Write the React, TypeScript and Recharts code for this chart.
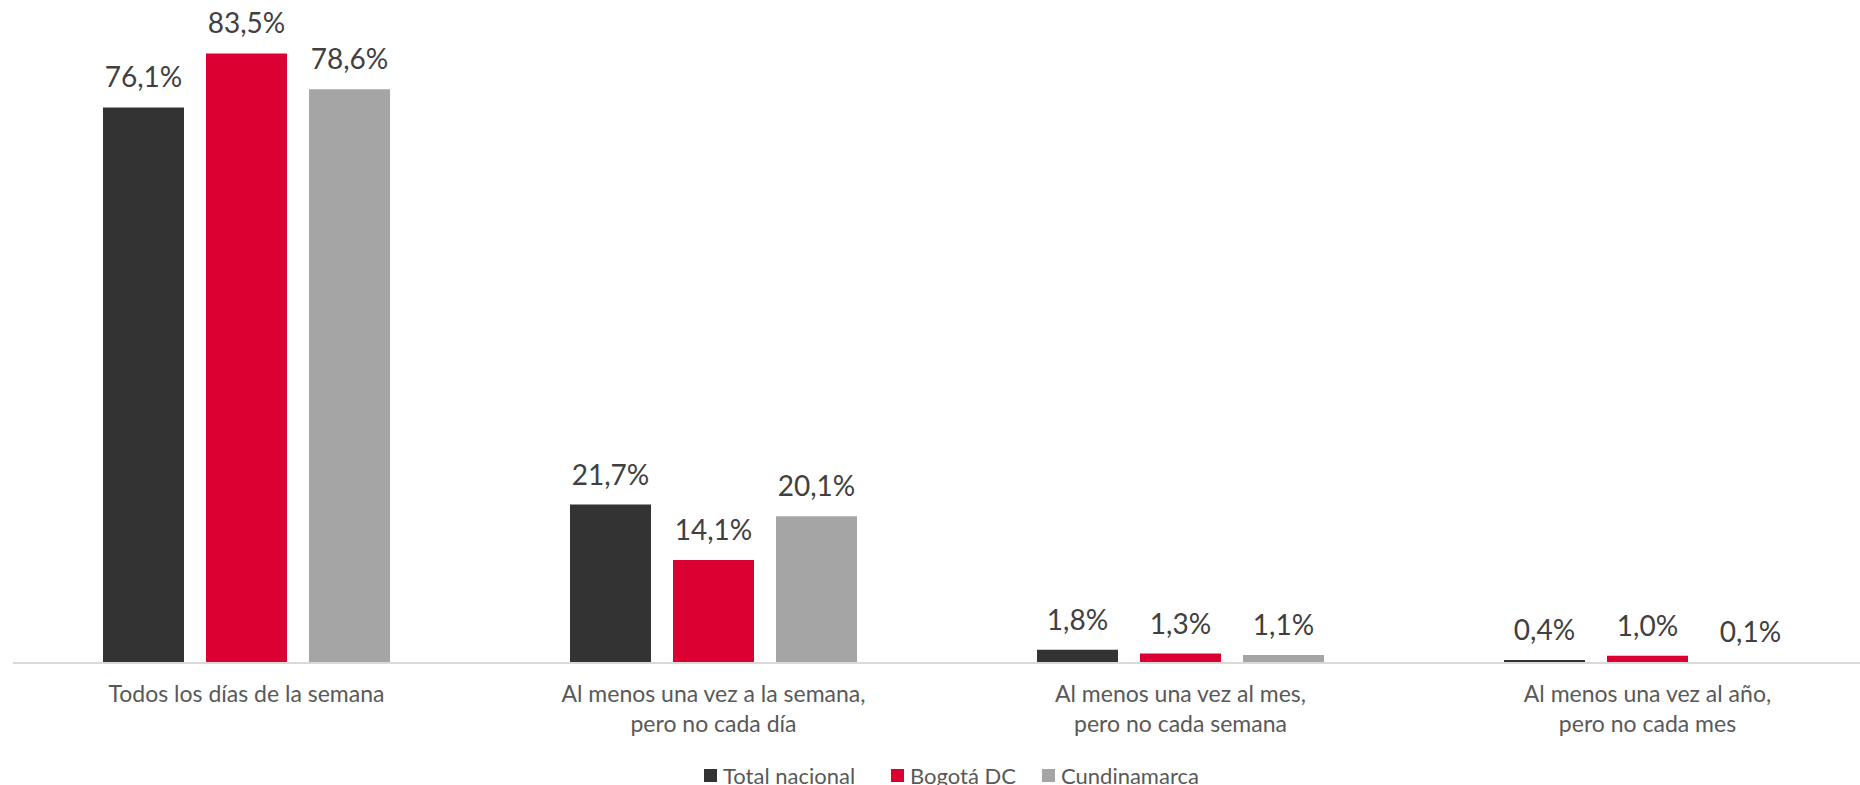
import React from "react";
import { BarChart, Bar, XAxis, YAxis, LabelList } from "recharts";

const categories = [
  "Todos los días de la semana",
  "Al menos una vez a la semana,\npero no cada día",
  "Al menos una vez al mes,\npero no cada semana",
  "Al menos una vez al año,\npero no cada mes",
];
const totalNacional = [76.1, 21.7, 1.8, 0.4];
const bogota = [83.5, 14.1, 1.3, 1.0];
const cundinamarca = [78.6, 20.1, 1.1, 0.1];

const seriesNames = ["Total nacional", "Bogotá DC", "Cundinamarca"];
const seriesColors = ["#333333", "#DC0032", "#A5A5A5"];
const legendLeft = [704, 891, 1042];

const data = categories.map((c, i) => ({
  name: c,
  s0: totalNacional[i],
  s1: bogota[i],
  s2: cundinamarca[i],
}));

const FONT = "Lato, 'Open Sans', sans-serif";

const fmt = (v: any) => Number(v).toFixed(1).replace(".", ",") + "%";

// etiqueta del eje en varias líneas
const CategoryTick = ({ x, y, payload }: any) => {
  const lines = String(payload.value).split("\n");
  return (
    <text x={x} y={y} textAnchor="middle" fill="#595959" fontSize={23} fontFamily={FONT}>
      {lines.map((l, i) => (
        <tspan key={i} x={x} dy={i === 0 ? 17 : 30}>
          {l}
        </tspan>
      ))}
    </text>
  );
};

export default function App() {
  return (
    <div
      style={{
        position: "fixed",
        left: 0,
        top: 0,
        width: 1860,
        height: 785,
        overflow: "hidden",
        background: "#fff",
      }}
    >
      <BarChart
        width={1900}
        height={785}
        data={data}
        margin={{ top: 6, right: 19, left: 13, bottom: 0 }}
        barSize={81}
        barGap={22}
      >
        <XAxis
          dataKey="name"
          height={122}
          interval={0}
          tickLine={false}
          tickSize={0}
          tickMargin={22}
          axisLine={{ stroke: "#D9D9D9", strokeWidth: 2 }}
          tick={<CategoryTick />}
        />
        <YAxis hide domain={[0, 90]} />
        {["s0", "s1", "s2"].map((k, i) => (
          <Bar key={k} dataKey={k} name={seriesNames[i]} fill={seriesColors[i]} isAnimationActive={false}>
            <LabelList
              dataKey={k}
              position="top"
              offset={20}
              formatter={fmt}
              fill="#404040"
              fontSize={28}
              fontFamily={FONT}
            />
          </Bar>
        ))}
      </BarChart>
      {/* leyenda */}
      {seriesNames.map((n, i) => (
        <div
          key={n}
          style={{
            position: "absolute",
            left: legendLeft[i],
            top: 763,
            height: 22,
            fontFamily: FONT,
            fontSize: 22,
            lineHeight: "26px",
            color: "#595959",
            whiteSpace: "nowrap",
          }}
        >
          <span
            style={{
              position: "absolute",
              left: 0,
              top: 6,
              width: 13,
              height: 13,
              background: seriesColors[i],
            }}
          />
          <span style={{ position: "absolute", left: 19, top: 0 }}>{n}</span>
        </div>
      ))}
    </div>
  );
}
